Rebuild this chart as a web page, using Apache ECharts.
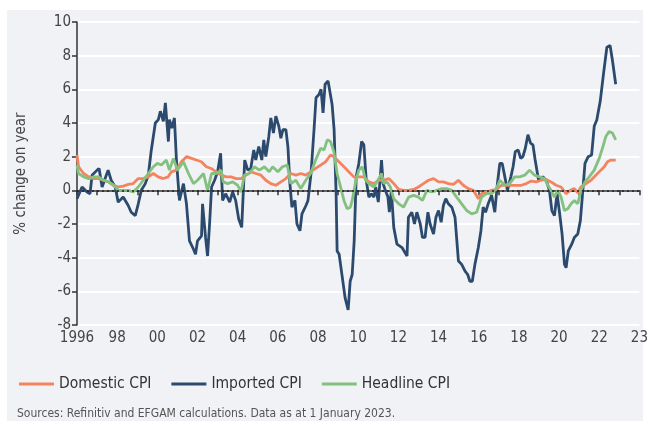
<!DOCTYPE html>
<html>
<head>
<meta charset="utf-8">
<script src="https://cdn.jsdelivr.net/npm/echarts@6/dist/echarts.min.js"></script>
<style>
  html, body { margin: 0; padding: 0; background: #fff; }
  #chart { width: 651px; height: 421px; }
</style>
</head>
<body>
<div id="chart"></div>
<script>
// [year, % change on year]
var domestic = [
  [1996.0,2.1],[1996.08,1.4],[1996.33,1.0],[1996.58,0.8],[1996.83,0.7],[1997.07,0.7],[1997.32,0.6],[1997.57,0.5],
  [1997.82,0.3],[1998.06,0.2],[1998.3,0.25],[1998.56,0.35],[1998.8,0.4],[1999.05,0.7],[1999.3,0.7],[1999.55,0.8],
  [1999.8,1.0],[2000.04,0.8],[2000.3,0.7],[2000.54,0.8],[2000.7,1.1],[2000.95,1.2],[2001.2,1.7],[2001.45,2.0],
  [2001.7,1.9],[2001.94,1.8],[2002.19,1.7],[2002.44,1.4],[2002.68,1.3],[2002.93,1.1],[2003.18,0.9],[2003.43,0.8],
  [2003.67,0.8],[2003.92,0.7],[2004.17,0.7],[2004.42,0.9],[2004.66,1.1],[2004.91,1.0],[2005.16,0.9],[2005.4,0.6],
  [2005.65,0.4],[2005.9,0.3],[2006.15,0.5],[2006.4,0.7],[2006.64,1.0],[2006.9,0.9],[2007.14,1.0],[2007.39,0.9],
  [2007.63,1.1],[2007.88,1.3],[2008.13,1.5],[2008.38,1.7],[2008.62,2.1],[2008.79,2.0],[2009.04,1.7],[2009.29,1.4],
  [2009.53,1.1],[2009.78,0.8],[2010.03,0.8],[2010.28,0.8],[2010.53,0.5],[2010.78,0.4],[2011.03,0.6],[2011.27,0.6],
  [2011.52,0.7],[2011.77,0.4],[2012.02,0.05],[2012.26,0],[2012.51,0],[2012.76,0.05],[2013.0,0.2],[2013.25,0.4],
  [2013.5,0.6],[2013.75,0.7],[2014.0,0.5],[2014.24,0.5],[2014.49,0.4],[2014.74,0.35],[2014.99,0.6],[2015.23,0.3],
  [2015.48,0.1],[2015.73,0],[2015.98,-0.5],[2016.14,-0.2],[2016.39,-0.1],[2016.64,0],[2016.88,0.05],[2017.13,0.3],
  [2017.38,0.3],[2017.63,0.3],[2017.87,0.3],[2018.12,0.3],[2018.37,0.4],[2018.62,0.55],[2018.86,0.5],[2019.11,0.6],
  [2019.36,0.65],[2019.6,0.5],[2019.85,0.3],[2020.1,0.2],[2020.35,-0.2],[2020.56,0],[2020.76,0.1],[2020.93,-0.15],
  [2021.09,0.2],[2021.34,0.4],[2021.59,0.6],[2021.83,0.9],[2022.08,1.2],[2022.25,1.4],[2022.41,1.7],[2022.58,1.8],
  [2022.82,1.8]
];

var imported = [
  [1996.0,-0.5],[1996.25,0.2],[1996.5,-0.1],[1996.65,-0.2],[1996.75,0.9],[1997.0,1.2],[1997.1,1.3],[1997.25,0.2],
  [1997.4,0.7],[1997.55,1.2],[1997.7,0.6],[1997.9,0.2],[1998.05,-0.7],[1998.3,-0.4],[1998.55,-0.9],[1998.7,-1.3],
  [1998.9,-1.5],[1999.05,-0.8],[1999.2,0],[1999.4,0.4],[1999.55,0.9],[1999.7,2.4],[1999.9,4.0],[2000.05,4.2],
  [2000.15,4.7],[2000.3,4.1],[2000.4,5.2],[2000.55,2.9],[2000.6,4.2],[2000.72,3.7],[2000.85,4.3],[2000.95,1.8],
  [2001.1,-0.6],[2001.3,0.4],[2001.45,-0.8],[2001.6,-3.0],[2001.8,-3.5],[2001.9,-3.8],[2002.0,-3.0],[2002.2,-2.7],
  [2002.25,-0.8],[2002.4,-2.8],[2002.5,-3.9],[2002.6,-2.0],[2002.7,0.2],[2002.85,0.6],[2003.0,1.1],[2003.15,2.2],
  [2003.25,-0.6],[2003.4,-0.2],[2003.6,-0.7],[2003.75,-0.1],[2003.9,-0.6],[2004.05,-1.7],[2004.2,-2.2],[2004.35,1.8],
  [2004.5,1.2],[2004.65,1.3],[2004.8,2.4],[2004.9,1.8],[2005.05,2.6],[2005.2,1.8],[2005.3,3.0],[2005.4,2.0],
  [2005.55,3.2],[2005.65,4.3],[2005.78,3.4],[2005.9,4.4],[2006.05,3.8],[2006.15,3.1],[2006.25,3.6],[2006.4,3.6],
  [2006.5,2.6],[2006.6,0.4],[2006.7,-1.0],[2006.85,-0.6],[2006.95,-2.0],[2007.1,-2.4],[2007.2,-1.4],[2007.4,-0.9],
  [2007.5,-0.6],[2007.65,1.0],[2007.8,3.6],[2007.9,5.5],[2008.05,5.7],[2008.15,6.0],[2008.25,4.6],[2008.35,6.3],
  [2008.5,6.5],[2008.7,5.1],[2008.8,3.6],[2008.9,-0.2],[2008.95,-3.6],[2009.05,-3.8],[2009.2,-5.1],[2009.28,-5.0],
  [2009.35,-6.4],[2009.5,-7.1],[2009.6,-5.4],[2009.7,-5.0],[2009.8,-3.0],[2009.9,0.8],[2010.03,1.6],[2010.17,2.9],
  [2010.28,2.7],[2010.4,0.6],[2010.53,-0.4],[2010.65,-0.2],[2010.78,-0.4],[2010.87,0.2],[2011.0,-0.7],[2011.1,0.8],
  [2011.16,1.8],[2011.24,0.4],[2011.35,0],[2011.48,-0.4],[2011.55,-1.3],[2011.65,0],[2011.77,-2.2],[2011.93,-3.2],
  [2012.18,-3.4],[2012.43,-3.9],[2012.5,-1.6],[2012.67,-1.3],[2012.8,-2.0],[2012.92,-1.3],[2013.09,-2.0],[2013.2,-2.8],
  [2013.33,-2.8],[2013.47,-1.3],[2013.58,-2.0],[2013.75,-2.6],[2013.87,-1.6],[2014.0,-1.2],[2014.13,-1.9],[2014.24,-0.9],
  [2014.36,-0.5],[2014.49,-0.8],[2014.66,-1.0],[2014.82,-1.6],[2014.99,-4.2],[2015.15,-4.4],[2015.32,-4.8],[2015.45,-5.0],
  [2015.56,-5.4],[2015.68,-5.4],[2015.81,-4.4],[2015.98,-3.4],[2016.11,-2.4],[2016.22,-1.0],[2016.34,-1.3],[2016.47,-0.8],
  [2016.64,-0.3],[2016.8,-1.3],[2016.93,0.4],[2017.05,1.6],[2017.17,1.6],[2017.3,0.8],[2017.43,0],[2017.6,0.8],
  [2017.71,1.4],[2017.82,2.3],[2017.96,2.4],[2018.09,1.9],[2018.2,2.0],[2018.32,2.5],[2018.45,3.3],[2018.58,2.8],
  [2018.7,2.7],[2018.81,1.8],[2018.98,0.6],[2019.19,0.8],[2019.36,0.6],[2019.52,0],[2019.64,-1.2],[2019.77,-1.5],
  [2019.9,-0.2],[2020.02,-1.3],[2020.15,-2.6],[2020.27,-4.4],[2020.35,-4.6],[2020.46,-3.6],[2020.63,-3.2],[2020.76,-2.8],
  [2020.93,-2.6],[2021.06,-1.8],[2021.17,-0.2],[2021.29,1.6],[2021.45,2.0],[2021.62,2.1],[2021.75,3.8],[2021.88,4.2],
  [2022.05,5.3],[2022.21,6.9],[2022.38,8.5],[2022.54,8.6],[2022.66,7.7],[2022.82,6.3]
];

var headline = [
  [1996.0,1.5],[1996.08,1.0],[1996.33,0.8],[1996.58,0.7],[1996.83,0.8],[1997.07,0.8],[1997.32,0.6],[1997.57,0.5],
  [1997.82,0.3],[1998.06,0],[1998.3,0],[1998.56,0],[1998.8,-0.1],[1999.05,0.2],[1999.3,0.6],[1999.55,1.0],
  [1999.8,1.4],[2000.0,1.6],[2000.2,1.5],[2000.45,1.8],[2000.6,1.2],[2000.8,1.9],[2001.0,1.2],[2001.3,1.7],
  [2001.55,1.0],[2001.8,0.4],[2002.0,0.6],[2002.3,1.0],[2002.5,0],[2002.7,1.0],[2002.93,1.0],[2003.18,1.2],
  [2003.28,0.5],[2003.5,0.4],[2003.75,0.5],[2004.0,0.3],[2004.17,-0.1],[2004.33,0.9],[2004.58,1.0],[2004.83,1.4],
  [2005.08,1.2],[2005.33,1.4],[2005.57,1.1],[2005.74,1.4],[2006.0,1.1],[2006.23,1.4],[2006.47,1.5],[2006.64,0.4],
  [2006.9,0.6],[2007.14,0.1],[2007.39,0.6],[2007.63,1.0],[2007.88,1.8],[2008.13,2.5],[2008.3,2.4],[2008.46,3.0],
  [2008.62,2.9],[2008.79,2.3],[2008.95,1.0],[2009.12,0.2],[2009.29,-0.6],[2009.45,-1.1],[2009.61,-1.0],[2009.7,-0.6],
  [2009.87,0.5],[2010.03,1.2],[2010.2,1.4],[2010.37,0.6],[2010.53,0.4],[2010.78,0.2],[2011.03,0.7],[2011.16,1.0],
  [2011.28,0.4],[2011.44,0.5],[2011.6,0.2],[2011.77,-0.5],[2012.02,-0.8],[2012.26,-1.0],[2012.51,-0.4],[2012.76,-0.3],
  [2013.0,-0.4],[2013.2,-0.6],[2013.42,0],[2013.67,-0.1],[2013.91,0],[2014.16,0.1],[2014.41,0.1],[2014.66,0],
  [2014.9,-0.4],[2015.15,-0.8],[2015.4,-1.2],[2015.65,-1.4],[2015.9,-1.3],[2016.14,-0.4],[2016.39,-0.2],[2016.64,-0.2],
  [2016.88,0.1],[2017.05,0.6],[2017.3,0.3],[2017.54,0.4],[2017.79,0.8],[2018.04,0.8],[2018.29,0.9],[2018.53,1.2],
  [2018.78,0.9],[2019.03,0.8],[2019.28,0.7],[2019.44,0.3],[2019.6,0],[2019.77,-0.4],[2019.94,0],[2020.1,-0.4],
  [2020.27,-1.2],[2020.43,-1.1],[2020.6,-0.8],[2020.76,-0.6],[2020.93,-0.8],[2021.09,0],[2021.29,0.5],[2021.5,0.8],
  [2021.75,1.2],[2022.0,1.9],[2022.16,2.5],[2022.33,3.2],[2022.49,3.5],[2022.66,3.4],[2022.82,3.0]
];

var seriesNames = ['Domestic CPI', 'Imported CPI', 'Headline CPI'];
var seriesColors = ['#f4845f', '#2b4a6e', '#84c07f'];
var yearMin = 1996, yearMax = 2024;
var lastLabel = '23';

var font = '"Liberation Sans Narrow", "DejaVu Sans Condensed", sans-serif';
var myChart = echarts.init(document.getElementById('chart'));

function yearLabel(v) {
  if (v === yearMin) return String(v);
  if (v === yearMax) return lastLabel;
  if (v % 2 !== 0) return '';
  return String(v).slice(2);
}

function makeLine(i, data) {
  var s = {
    name: seriesNames[i],
    type: 'line',
    data: data,
    showSymbol: false,
    symbol: 'none',
    z: i === 1 ? 3 : 4,
    lineStyle: { color: seriesColors[i], width: 2.8 },
    itemStyle: { color: seriesColors[i] }
  };
  if (i === 1) {
    s.markLine = {
      silent: true,
      symbol: 'none',
      label: { show: false },
      lineStyle: { color: '#222', type: [2, 3], width: 1.6 },
      data: [{ yAxis: 0 }]
    };
  }
  return s;
}

var option = {
  backgroundColor: '#fff',
  animation: false,
  graphic: [{
    type: 'rect', z: -10,
    shape: { x: 7, y: 10, width: 636, height: 411 },
    style: { fill: '#f0f2f5' }
  }],
  title: {
    text: 'Sources: Refinitiv and EFGAM calculations. Data as at 1 January 2023.',
    left: 12, top: 403,
    textStyle: { fontFamily: font, fontSize: 12, fontWeight: 'normal', color: '#555' }
  },
  legend: {
    data: seriesNames,
    left: 14, top: 371,
    icon: 'rect',
    itemWidth: 35, itemHeight: 3,
    itemGap: 20,
    textStyle: { fontFamily: font, fontSize: 15.5, color: '#333' }
  },
  grid: { left: 77, right: 9, top: 22, bottom: 96 },
  xAxis: {
    type: 'value',
    min: yearMin, max: yearMax, interval: 1,
    axisLine: { lineStyle: { color: '#333', width: 1.5 } },
    axisTick: { show: true, length: 5, lineStyle: { color: '#333', width: 1.5 } },
    axisLabel: {
      fontFamily: font, fontSize: 15, color: '#444', margin: 6,
      showMaxLabel: true,
      formatter: yearLabel
    },
    splitLine: { show: false }
  },
  yAxis: {
    type: 'value',
    min: -8, max: 10, interval: 2,
    name: '% change on year',
    nameLocation: 'middle',
    nameGap: 48,
    nameTextStyle: { fontFamily: font, fontSize: 15, color: '#444' },
    axisLine: { show: true, lineStyle: { color: '#333', width: 1.5 } },
    axisTick: { show: true, length: 5, lineStyle: { color: '#333', width: 1.5 } },
    axisLabel: { fontFamily: font, fontSize: 15, color: '#444', margin: 6 },
    splitLine: { show: true, lineStyle: { color: '#ffffff', width: 2 } }
  },
  series: [makeLine(0, domestic), makeLine(1, imported), makeLine(2, headline)]
};

myChart.setOption(option);
window.addEventListener('resize', function () {
  myChart.resize();
});
</script>
</body>
</html>
